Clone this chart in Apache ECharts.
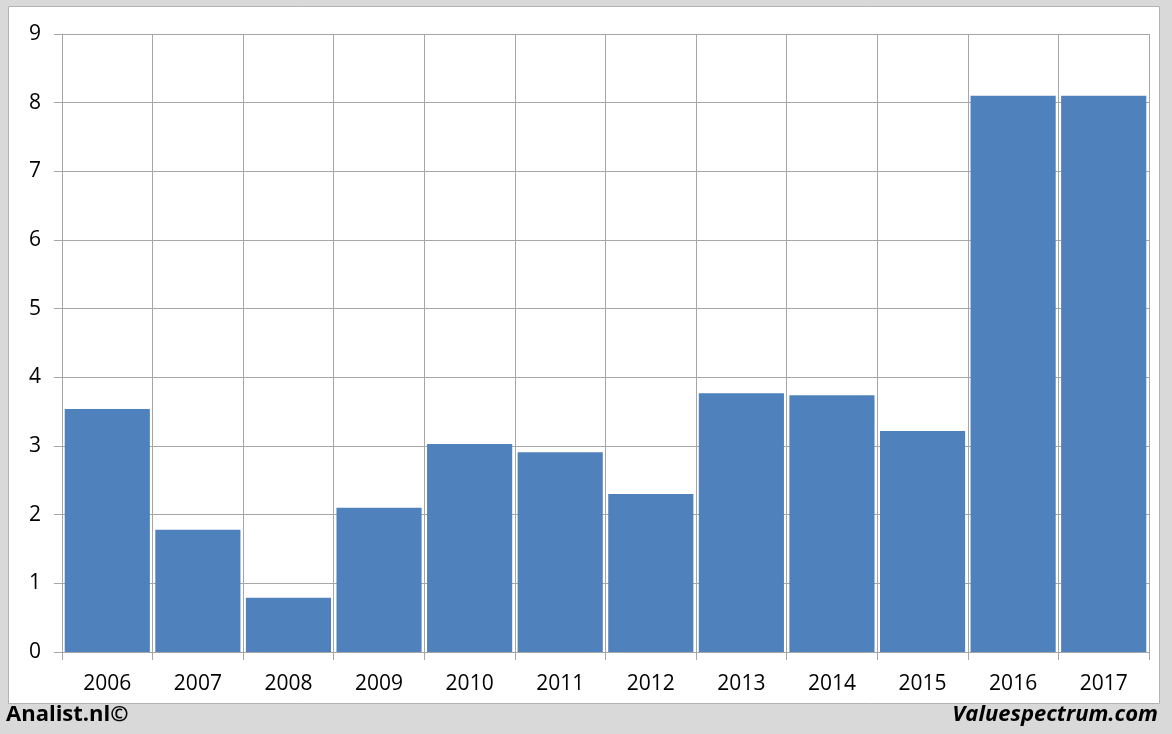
<!DOCTYPE html>
<html><head><meta charset="utf-8">
<script src="https://cdn.jsdelivr.net/npm/echarts@6/dist/echarts.min.js"></script>
<style>html,body{margin:0;padding:0;background:#d9d9d9;}#c{width:1172px;height:734px;}</style>
</head><body><div id="c"></div>
<script>
const categories = ['2006','2007','2008','2009','2010','2011','2012','2013','2014','2015','2016','2017'];
const values = [3.54, 1.78, 0.79, 2.10, 3.03, 2.91, 2.30, 3.77, 3.74, 3.22, 8.10, 8.10];
const yTicks = [0, 9, 1];
const chart = echarts.init(document.getElementById('c'));
const font = '"Open Sans", "Liberation Sans", sans-serif';
chart.setOption({
  animation: false,
  backgroundColor: '#d9d9d9',
  graphic: [
    {type:'rect', shape:{x:8.5,y:6.5,width:1151,height:697}, style:{fill:'#ffffff', stroke:'#b3b3b3', lineWidth:1}, z:-10},
    {type:'text', left:6, top:704, style:{text:'Analist.nl©', font:'bold 22px '+font, fill:'#000'}},
    {type:'text', right:14, top:704, style:{text:'Valuespectrum.com', font:'italic bold 22px '+font, fill:'#000'}}
  ],
  grid: {left:62, right:23, top:34, bottom:82, containLabel:false},
  xAxis: {
    type:'category', data:categories, boundaryGap:true,
    axisLine:{show:true, lineStyle:{color:'#a6a6a6'}},
    axisTick:{show:true, length:8, interval:0, lineStyle:{color:'#a6a6a6'}},
    axisLabel:{color:'#000', fontSize:21, fontFamily:font, margin:22, interval:0},
    splitLine:{show:true, interval:0, lineStyle:{color:'#a6a6a6'}}
  },
  yAxis: {
    type:'value', min:yTicks[0], max:yTicks[1], interval:yTicks[2],
    axisLine:{show:true, lineStyle:{color:'#a6a6a6'}},
    axisTick:{show:true, length:8, lineStyle:{color:'#a6a6a6'}},
    axisLabel:{color:'#000', fontSize:21, fontFamily:font, margin:21},
    splitLine:{show:true, lineStyle:{color:'#a6a6a6'}}
  },
  series: [{
    type:'bar', data:values, barCategoryGap:'6%',
    itemStyle:{color:'#4f81bd'}
  }]
});
</script></body></html>
